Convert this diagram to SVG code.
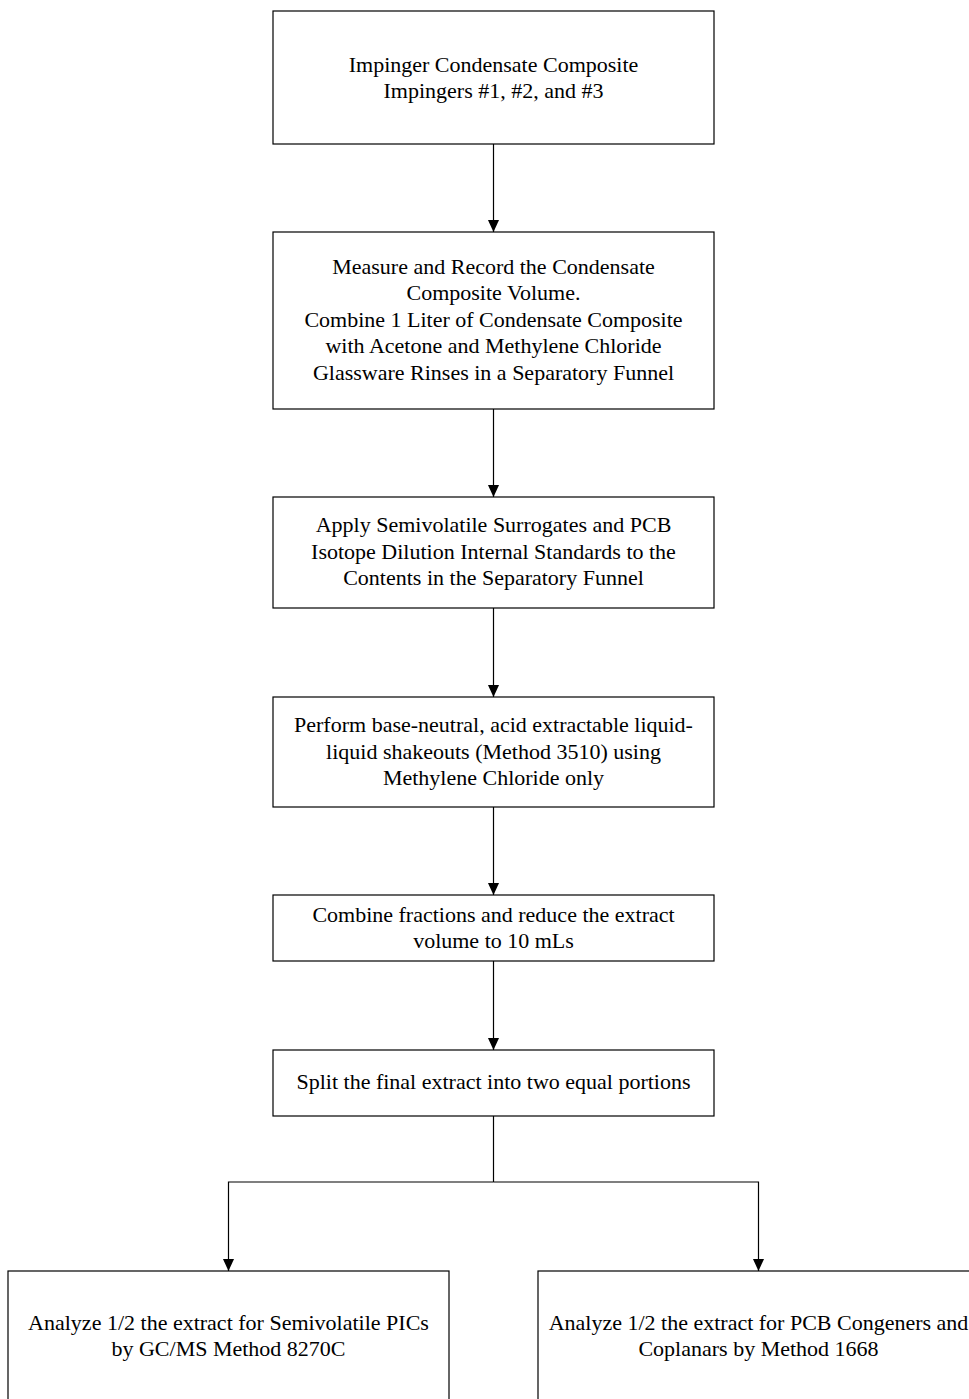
<svg xmlns="http://www.w3.org/2000/svg" width="969" height="1399" viewBox="0 0 969 1399">
<style>
.box{fill:#fff;stroke:#000;stroke-width:1.2}
.t{font-family:"Liberation Serif","Times New Roman",serif;font-size:22px;fill:#000;text-anchor:middle}
.c{fill:none;stroke:#000;stroke-width:1.2}
</style>
<defs>
<marker id="ah" markerWidth="12" markerHeight="13" viewBox="0 0 13 12" refX="13" refY="6" orient="auto" markerUnits="userSpaceOnUse">
<path d="M0,0 L13,6 L0,12 Z" fill="#000"/>
</marker>
</defs>
<rect width="969" height="1399" fill="#fff"/>
<g id="connectors">
<line class="c" x1="493.5" y1="144" x2="493.5" y2="232" marker-end="url(#ah)"/>
<line class="c" x1="493.5" y1="409" x2="493.5" y2="497" marker-end="url(#ah)"/>
<line class="c" x1="493.5" y1="608" x2="493.5" y2="697" marker-end="url(#ah)"/>
<line class="c" x1="493.5" y1="807" x2="493.5" y2="895" marker-end="url(#ah)"/>
<line class="c" x1="493.5" y1="961" x2="493.5" y2="1050" marker-end="url(#ah)"/>
<polyline class="c" points="493.5,1116 493.5,1182"/>
<polyline class="c" points="493.5,1182 228.5,1182 228.5,1271" marker-end="url(#ah)"/>
<polyline class="c" points="493.5,1182 758.5,1182 758.5,1271" marker-end="url(#ah)"/>
</g>
<g id="n1">
<rect class="box" x="273" y="11" width="441" height="133"/>
<text class="t" x="493.5" y="72">Impinger Condensate Composite</text>
<text class="t" x="493.5" y="98">Impingers #1, #2, and #3</text>
</g>
<g id="n2">
<rect class="box" x="273" y="232" width="441" height="177"/>
<text class="t" x="493.5" y="273.5">Measure and Record the Condensate</text>
<text class="t" x="493.5" y="300">Composite Volume.</text>
<text class="t" x="493.5" y="326.5">Combine 1 Liter of Condensate Composite</text>
<text class="t" x="493.5" y="353">with Acetone and Methylene Chloride</text>
<text class="t" x="493.5" y="379.5">Glassware Rinses in a Separatory Funnel</text>
</g>
<g id="n3">
<rect class="box" x="273" y="497" width="441" height="111"/>
<text class="t" x="493.5" y="532">Apply Semivolatile Surrogates and PCB</text>
<text class="t" x="493.5" y="558.5">Isotope Dilution Internal Standards to the</text>
<text class="t" x="493.5" y="585">Contents in the Separatory Funnel</text>
</g>
<g id="n4">
<rect class="box" x="273" y="697" width="441" height="110"/>
<text class="t" x="493.5" y="732">Perform base-neutral, acid extractable liquid-</text>
<text class="t" x="493.5" y="758.5">liquid shakeouts (Method 3510) using</text>
<text class="t" x="493.5" y="785">Methylene Chloride only</text>
</g>
<g id="n5">
<rect class="box" x="273" y="895" width="441" height="66"/>
<text class="t" x="493.5" y="921.5">Combine fractions and reduce the extract</text>
<text class="t" x="493.5" y="948">volume to 10 mLs</text>
</g>
<g id="n6">
<rect class="box" x="273" y="1050" width="441" height="66"/>
<text class="t" x="493.5" y="1089">Split the final extract into two equal portions</text>
</g>
<g id="n7">
<rect class="box" x="8" y="1271" width="441" height="140"/>
<text class="t" x="228.5" y="1330">Analyze 1/2 the extract for Semivolatile PICs</text>
<text class="t" x="228.5" y="1356">by GC/MS Method 8270C</text>
</g>
<g id="n8">
<rect class="box" x="538" y="1271" width="441" height="140"/>
<text class="t" x="758.5" y="1330">Analyze 1/2 the extract for PCB Congeners and</text>
<text class="t" x="758.5" y="1356">Coplanars by Method 1668</text>
</g>
</svg>
